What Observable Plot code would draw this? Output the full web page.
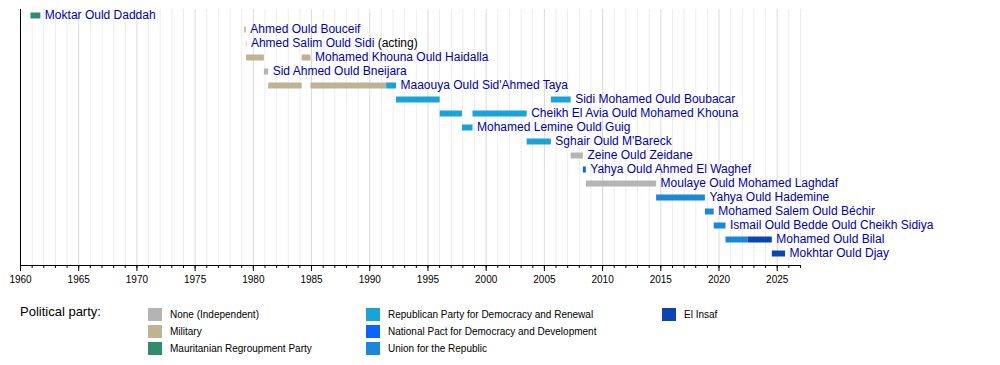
<!DOCTYPE html>
<html><head><meta charset="utf-8">
<script src="https://cdn.jsdelivr.net/npm/d3@7"></script>
<script src="https://cdn.jsdelivr.net/npm/@observablehq/plot@0.6"></script>
<style>
body{margin:0;background:#fff;font-family:"Liberation Sans",Arial,Helvetica,sans-serif;}
#wrap{position:relative;width:1000px;height:365px;overflow:hidden;}
#wrap svg{position:absolute;left:0;top:0;}
.legend-title{position:absolute;left:20px;top:304px;font-size:13px;color:#000;}
.item{position:absolute;font-size:10px;display:flex;align-items:center;height:14px;color:#000;white-space:nowrap;}
.sw{width:14px;height:13px;margin-right:8px;flex:none;}
</style></head><body><div id="wrap"></div>
<script>
// Rows (prime ministers), top to bottom
const names = [
  "Moktar Ould Daddah",
  "Ahmed Ould Bouceif",
  "Ahmed Salim Ould Sidi",
  "Mohamed Khouna Ould Haidalla",
  "Sid Ahmed Ould Bneijara",
  "Maaouya Ould Sid'Ahmed Taya",
  "Sidi Mohamed Ould Boubacar",
  "Cheikh El Avia Ould Mohamed Khouna",
  "Mohamed Lemine Ould Guig",
  "Sghair Ould M'Bareck",
  "Zeine Ould Zeidane",
  "Yahya Ould Ahmed El Waghef",
  "Moulaye Ould Mohamed Laghdaf",
  "Yahya Ould Hademine",
  "Mohamed Salem Ould Béchir",
  "Ismail Ould Bedde Ould Cheikh Sidiya",
  "Mohamed Ould Bilal",
  "Mokhtar Ould Djay"
];
const notes = ["", "", "(acting)", "", "", "", "", "", "", "", "", "", "", "", "", "", "", ""];

// Terms in office
const termName = [
  "Moktar Ould Daddah",
  "Ahmed Ould Bouceif",
  "Ahmed Salim Ould Sidi",
  "Mohamed Khouna Ould Haidalla",
  "Mohamed Khouna Ould Haidalla",
  "Sid Ahmed Ould Bneijara",
  "Maaouya Ould Sid'Ahmed Taya",
  "Maaouya Ould Sid'Ahmed Taya",
  "Maaouya Ould Sid'Ahmed Taya",
  "Sidi Mohamed Ould Boubacar",
  "Sidi Mohamed Ould Boubacar",
  "Cheikh El Avia Ould Mohamed Khouna",
  "Cheikh El Avia Ould Mohamed Khouna",
  "Mohamed Lemine Ould Guig",
  "Sghair Ould M'Bareck",
  "Zeine Ould Zeidane",
  "Yahya Ould Ahmed El Waghef",
  "Moulaye Ould Mohamed Laghdaf",
  "Yahya Ould Hademine",
  "Mohamed Salem Ould Béchir",
  "Ismail Ould Bedde Ould Cheikh Sidiya",
  "Mohamed Ould Bilal",
  "Mohamed Ould Bilal",
  "Mokhtar Ould Djay"
];
const termStart = [1960.9, 1979.26, 1979.40, 1979.42, 1984.19, 1980.95, 1981.32, 1984.95, 1991.45, 1992.30, 2005.60, 1996.05, 1998.87, 1997.96, 2003.52, 2007.30, 2008.35, 2008.62, 2014.64, 2018.83, 2019.59, 2020.60, 2022.50, 2024.58];
const termEnd   = [1961.75, 1979.40, 1979.45, 1980.95, 1984.95, 1981.32, 1984.19, 1991.45, 1992.30, 1996.05, 2007.30, 1997.96, 2003.52, 1998.87, 2005.60, 2008.35, 2008.60, 2014.64, 2018.83, 2019.59, 2020.60, 2022.50, 2024.58, 2025.72];
const termParty = [
  "Mauritanian Regroupment Party",
  "Military", "Military", "Military", "Military",
  "None (Independent)",
  "Military", "Military",
  "Republican Party for Democracy and Renewal",
  "Republican Party for Democracy and Renewal",
  "Republican Party for Democracy and Renewal",
  "Republican Party for Democracy and Renewal",
  "Republican Party for Democracy and Renewal",
  "Republican Party for Democracy and Renewal",
  "Republican Party for Democracy and Renewal",
  "None (Independent)",
  "National Pact for Democracy and Development",
  "None (Independent)",
  "Union for the Republic",
  "Union for the Republic",
  "Union for the Republic",
  "Union for the Republic",
  "El Insaf",
  "El Insaf"
];

// Legend
const parties = [
  "None (Independent)",
  "Military",
  "Mauritanian Regroupment Party",
  "Republican Party for Democracy and Renewal",
  "National Pact for Democracy and Development",
  "Union for the Republic",
  "El Insaf"
];
const partyColors = ["#b4b4b4", "#c0b394", "#2f8c6e", "#1aa3d6", "#0b63ff", "#1a87d8", "#0b44b3"];
const legendTitle = "Political party:";

// Axis ticks
const majorTicks = d3.range(1960, 2026, 5);
const minorTicks = d3.range(1960, 2028, 1);

const terms = termName.map((n, i) => ({name: n, start: termStart[i], end: termEnd[i], party: termParty[i]}));
const labels = names.map((n, i) => ({name: n, end: d3.max(terms.filter(t => t.name === n), t => t.end), note: notes[i]}));

const W = 1000, H = 295;
const chart = Plot.plot({
  width: W,
  height: H,
  marginLeft: 20,
  marginRight: 200,
  marginTop: 9,
  marginBottom: 30,
  style: {fontFamily: "'Liberation Sans', Arial, Helvetica, sans-serif", fontSize: "10px", background: "white", overflow: "visible"},
  x: {domain: [1960, 2027], label: null},
  y: {type: "point", domain: names, range: [13, 254], padding: 0, axis: null, label: null},
  color: {domain: parties, range: partyColors},
  marks: [
    Plot.ruleX(minorTicks.filter(d => d % 5 !== 0), {stroke: "#ededed", strokeWidth: 1}),
    Plot.ruleX(majorTicks.filter(d => d !== 1960), {stroke: "#dadada", strokeWidth: 1}),
    Plot.ruleX([1960], {stroke: "black"}),
    Plot.frame({anchor: "bottom", stroke: "black"}),
    Plot.axisX({ticks: minorTicks, tickSize: 3, tickFormat: () => "", label: null, stroke: "black"}),
    Plot.axisX({ticks: majorTicks, tickSize: 6, tickPadding: 4, tickFormat: d => String(d), label: null, stroke: "black", fill: "black", fontSize: 10}),
    Plot.ruleY(terms, {y: "name", x1: "start", x2: "end", stroke: "party", strokeWidth: 6}),
    Plot.text(labels, {x: "end", y: "name", text: "name", dx: 4, textAnchor: "start", fill: "#0000b8", fontSize: 12})
  ]
});

// Append notes (e.g. "(acting)") in black after the name
d3.select(chart).selectAll('g[aria-label="text"] text').each(function() {
  const n = this.textContent;
  const i = names.indexOf(n);
  if (i >= 0 && notes[i]) d3.select(this).append("tspan").attr("fill", "#000").text(" " + notes[i]);
});

const wrap = document.getElementById("wrap");
wrap.appendChild(chart);

const title = document.createElement("div");
title.className = "legend-title";
title.textContent = legendTitle;
wrap.appendChild(title);

const colX = [148, 366, 662];
const rowY = [307, 324, 341];
parties.forEach((p, i) => {
  const c = Math.floor(i / 3), r = i % 3;
  const item = document.createElement("div");
  item.className = "item";
  item.style.left = colX[c] + "px";
  item.style.top = rowY[r] + "px";
  const sw = document.createElement("div");
  sw.className = "sw";
  sw.style.background = partyColors[i];
  const tx = document.createElement("span");
  tx.textContent = p;
  item.appendChild(sw);
  item.appendChild(tx);
  wrap.appendChild(item);
});
</script></body></html>
